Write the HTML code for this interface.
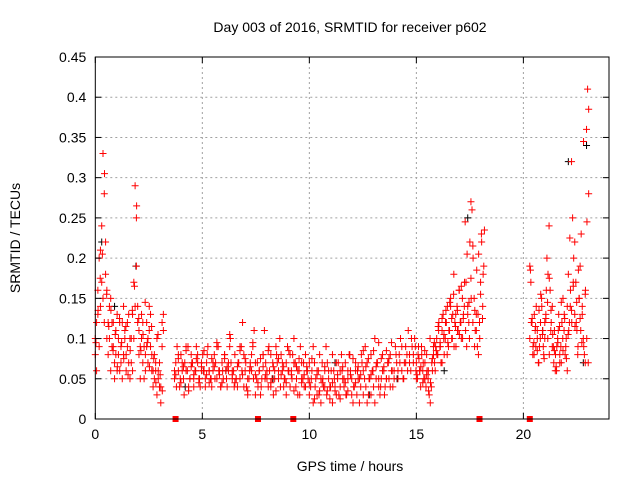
<!DOCTYPE html>
<html><head><meta charset="utf-8"><style>
body{margin:0;background:#fff;}
svg{display:block;font-family:"Liberation Sans",sans-serif;}
</style></head><body>
<svg id="chart" width="640" height="480" viewBox="0 0 640 480" xmlns="http://www.w3.org/2000/svg">
<rect width="640" height="480" fill="#fff"/>
<text x="350" y="32" font-size="14" text-anchor="middle" fill="#000">Day 003 of 2016, SRMTID for receiver p602</text>
<text x="20" y="238" font-size="14" text-anchor="middle" transform="rotate(-90 20 238)">SRMTID / TECUs</text>
<text x="350" y="471" font-size="14" text-anchor="middle">GPS time / hours</text>
<g id="grid"></g><g id="marks"></g><g id="axes"></g>
</svg>
<script>
const xTicks=[0,5,10,15,20];
const yTicks=[0,0.05,0.1,0.15,0.2,0.25,0.3,0.35,0.4,0.45];
const yTickLabels=["0","0.05","0.1","0.15","0.2","0.25","0.3","0.35","0.4","0.45"];
const segStart=[0.0,0.0,3.7,3.7,15.0,15.0,20.3,20.3,0.03,3.76,15.03,20.33];
const segStep=[0.06,0.06,0.06,0.09,0.05,0.08,0.05,0.07,0.1,0.12,0.09,0.08];
const seg0=[.08,.12,.16,.20,.14,.24,.33,.28,.18,.16,.12,.10,.15,.12,.09,.07,.11,.13,.08,.06,.09,.12,.14,.10,.08,.12,.07,.05,.10,.13,.17,.29,.25,.14,.11,.09,.13,.07,.05,.08,.12,.10,.14,.09,.06,.04,.08,.06,.03,.05,.07,.04,.12,.13];
const seg1=[.10,.06,.13,.09,.21,.17,.15,.12,.22,.10,.08,.14,.06,.09,.12,.05,.08,.06,.10,.12,.07,.05,.08,.11,.06,.09,.13,.10,.07,.06,.10,.14,.19,.12,.08,.05,.10,.12,.09,.06,.09,.07,.11,.13,.08,.06,.05,.07,.10,.06,.04,.02,.09,.11];
const seg2=[.05,.07,.09,.06,.04,.08,.06,.05,.07,.09,.06,.04,.05,.08,.07,.05,.06,.09,.07,.05,.04,.06,.08,.06,.05,.07,.09,.06,.05,.04,
.06,.08,.07,.05,.09,.06,.04,.07,.05,.08,.06,.04,.06,.09,.07,.05,.06,.08,.05,.04,
.07,.05,.09,.12,.08,.06,.04,.03,.05,.07,.06,.09,.11,.07,.05,.04,.06,.03,.05,.08,
.11,.07,.05,.04,.06,.08,.05,.03,.06,.09,.07,.05,.10,.08,.06,.04,.05,.07,.09,.06,
.04,.06,.08,.10,.07,.05,.03,.06,.09,.07,.05,.04,.08,.06,.05,.07,.04,.06,.09,.07,
.05,.03,.06,.08,.05,.07,.04,.06,.09,.07,.05,.04,.06,.08,.06,.04,.07,.05,.03,.06,
.08,.05,.04,.07,.03,.05,.08,.06,.03,.02,.04,.06,.03,.05,.02,.04,.07,.03,.05,.04,
.02,.03,.05,.03,.06,.04,.02,.05,.07,.04,.03,.05,.08,.06,.04,.05,.07,.05,.08,.06,
.04,.06,.09,.07,.05,.08,.10,.06,.05,.07,.09,.08,.11,.07,.06,.09,.08,.10,.06];
const seg3=[.06,.04,.08,.05,.07,.03,.06,.09,.05,.07,.04,.06,.08,.05,.07,.06,.04,.08,.06,.05,
.07,.05,.09,.06,.04,.06,.08,.05,.07,.10,.06,.04,.05,.07,.09,.06,.04,.07,.05,.06,
.08,.05,.03,.07,.06,.04,.08,.05,.06,.09,.04,.07,.05,.08,.06,.04,.07,.05,.03,.06,
.08,.05,.07,.04,.06,.03,.05,.07,.04,.06,.03,.05,.02,.04,.06,.03,.02,.05,.04,.03,
.06,.04,.02,.05,.03,.07,.04,.06,.05,.03,.06,.08,.05,.04,.07,.06,.05,.08,.06,.09,
.07,.05,.08,.06,.10,.07,.05,.04,.06,.03,.05,.07,.04,.06,.05,.08,.06,.07,.09,.05,.07,.06,.08,.10,.07,.09];
const seg4=[.07,.05,.09,.06,.04,.08,.06,.05,.07,.04,.06,.05,.03,.02,.04,.06,.08,.07,.09,.10,
.08,.12,.09,.07,.11,.13,.08,.10,.12,.14,.09,.11,.15,.10,.13,.18,.12,.09,.14,.11,
.16,.12,.10,.15,.13,.17,.11,.09,.14,.12,.22,.27,.26,.20,.15,.11,.13,.09,.08,.12,.17,.22,.14,.19];
const seg5=[.05,.08,.06,.09,.07,.05,.08,.06,.10,.07,.09,.06,.08,.11,.09,.07,.10,.12,.08,.11,
.14,.10,.09,.13,.11,.16,.12,.10,.14,.17,.13,.10,.15,.12,.09,.11,.13,.10,.23,.18];
const seg6=[.19,.17,.12,.09,.08,.11,.14,.10,.07,.09,.12,.15,.11,.08,.10,.13,.20,.18,.24,.16,
.12,.14,.09,.11,.08,.06,.10,.13,.07,.09,.12,.15,.11,.08,.10,.14,.18,.12,.16,.32,
.25,.20,.13,.17,.11,.09,.15,.19,.23,.14,.10,.08,.16,.36,.41,.28];
const seg7=[.10,.12,.08,.13,.09,.11,.07,.10,.14,.09,.12,.16,.10,.08,.11,.09,.07,.06,.09,.11,
.08,.07,.10,.13,.09,.06,.11,.14,.12,.17,.22,.12,.08,.15,.11,.13,.09,.07,.10,.07];
const seg8=[.095,.135,.175,.205,.305,.155,.115,.135,.085,.105,.065,.125,.095,.075,.115,.055,.085,.135,.165,.265,.125,.085,.105,.145,.095,.065,.115,.075,.045,.105,.055,.035];
const seg9=[.055,.075,.045,.065,.085,.035,.065,.055,.075,.045,.065,.085,.055,.045,.075,.065,.095,.055,.045,.075,
.065,.105,.055,.045,.065,.085,.055,.075,.035,.065,.095,.055,.045,.075,.065,.055,.085,.045,.065,.035,
.075,.055,.065,.045,.085,.055,.035,.065,.075,.045,.055,.065,.045,.075,.025,.055,.035,.045,.065,.035,
.025,.045,.035,.055,.025,.065,.045,.035,.055,.075,.045,.065,.055,.085,.065,.075,.055,.085,.065,.095,
.075,.065,.085,.075,.095];
const seg10=[.055,.075,.065,.045,.085,.055,.035,.045,.075,.095,.085,.115,.095,.125,.105,.135,.095,.145,.125,.155,.115,.135,.105,.165,.125,.245,.205,.145,.175,.215,.135,.185,.205,.155,.125,.235];
const seg11=[.185,.125,.095,.115,.085,.135,.155,.105,.075,.125,.145,.175,.135,.105,.085,.065,.095,.115,.145,.085,.125,.075,.105,.225,.135,.165,.115,.145,.185,.125,.095,.345,.155,.245,.385];
const segValues=[seg0,seg1,seg2,seg3,seg4,seg5,seg6,seg7,seg8,seg9,seg10,seg11];
const blackTimes=[0.3,0.9,1.9,4.2,6.1,8.3,11.2,12.8,14.1,16.3,17.4,20.9,22.1,22.8,22.95];
const blackValues=[0.22,0.14,0.19,0.04,0.06,0.05,0.07,0.03,0.05,0.06,0.25,0.11,0.32,0.07,0.34];
const zeroTimes=[3.75,7.6,9.25,17.95,20.3];

const X0=95.3,X1=609,Y0=419,Y1=57;
const xs=h=>X0+(X1-X0)*h/24;
const ys=v=>Y0-(Y0-Y1)*v/0.45;
const NS="http://www.w3.org/2000/svg";
function mk(tag,parent,attrs){const e=document.createElementNS(NS,tag);for(const k in attrs)e.setAttribute(k,attrs[k]);parent.appendChild(e);return e;}
const grid=document.getElementById('grid'),marks=document.getElementById('marks'),axes=document.getElementById('axes');
xTicks.forEach((t,i)=>{const x=xs(t);
 if(t>0){const g=mk('line',grid,{x1:x,x2:x,y1:Y1,y2:Y0,stroke:'#a0a0a0','stroke-dasharray':'2,3'});}
 mk('line',axes,{x1:x,x2:x,y1:Y0,y2:Y0-6,stroke:'#000'});mk('line',axes,{x1:x,x2:x,y1:Y1,y2:Y1+6,stroke:'#000'});
 const tx=mk('text',axes,{x:x,y:Y0+20,'font-size':14,'text-anchor':'middle'});tx.textContent=String(t);
 });
yTicks.forEach((t,i)=>{const y=ys(t);
 if(t>0&&t<0.45){const g=mk('line',grid,{x1:X0,x2:X1,y1:y,y2:y,stroke:'#a0a0a0','stroke-dasharray':'2,3'});}
 mk('line',axes,{x1:X0,x2:X0+6,y1:y,y2:y,stroke:'#000'});mk('line',axes,{x1:X1,x2:X1-6,y1:y,y2:y,stroke:'#000'});
 const tx=mk('text',axes,{x:X0-9,y:y+5,'font-size':14,'text-anchor':'end'});tx.textContent=yTickLabels[i];
 });
const frame=mk('rect',axes,{x:X0,y:Y1,width:X1-X0,height:Y0-Y1,fill:'none',stroke:'#000'});


function cross(x,y,col){const p=mk('path',marks,{d:`M${x-3.5},${y}h7M${x},${y-3.5}v7`,stroke:col,'stroke-width':1,fill:'none'});return p;}
blackTimes.forEach((t,i)=>{const p=cross(xs(t),ys(blackValues[i]),'#000');
 
 });
segValues.forEach((arr,s)=>arr.forEach((v,i)=>{const p=cross(xs(segStart[s]+i*segStep[s]),ys(v),'#ff0000');
 
 }));
zeroTimes.forEach(t=>{const r=mk('rect',marks,{x:xs(t)-3,y:Y0-3,width:6,height:6,fill:'#ff0000'});
 
 });
</script>
</body></html>
